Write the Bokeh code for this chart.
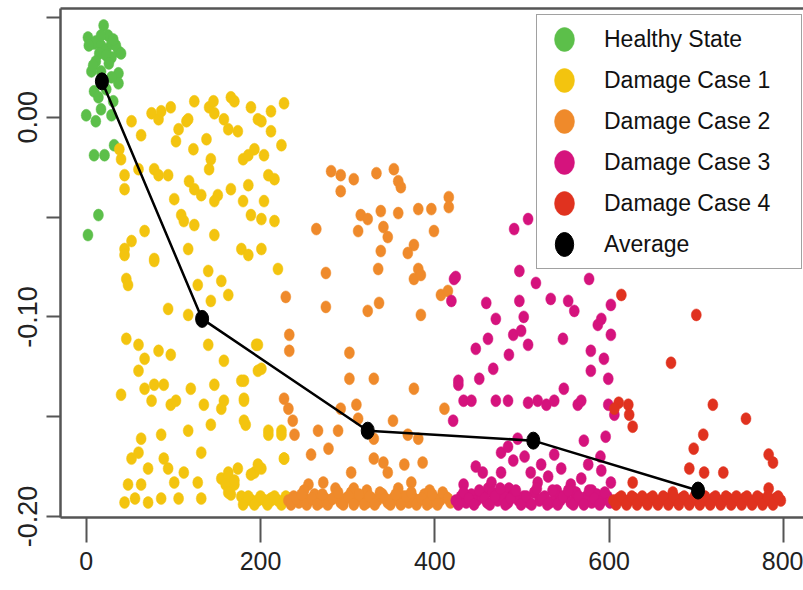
from bokeh.plotting import figure
from bokeh.models import Range1d, FixedTicker, Legend, LegendItem, LinearAxis
from bokeh.embed import file_html
from bokeh.resources import INLINE

# ---------------- data (sample index, mean value) ----------------
healthy_pts = [
    (20, 0.046), (2, 0.040), (9, 0.037), (25, 0.041), (37, 0.033), (29, 0.030), (6, 0.023), (37, 0.022),
    (20, 0.018), (9, 0.013), (37, 0.017), (0, 0.001), (17, 0.004), (29, 0.001), (9, -0.019), (21, -0.019),
    (32, -0.014), (14, -0.049), (2, -0.059), (11, 0.038), (17, 0.036), (23, 0.034), (29, 0.037), (34, 0.036),
    (15, 0.032), (23, 0.031), (17, 0.041), (31, 0.039), (40, 0.032), (11, 0.028), (26, 0.027), (3, 0.036),
    (8, 0.026), (29, 0.020), (17, 0.023), (23, 0.014), (14, 0.010), (31, 0.008), (11, -0.002),
]

damage1_pts = [
    (52, -0.002), (63, -0.009), (75, 0.002), (83, -0.001), (86, 0.003), (97, 0.005), (106, -0.006), (103, -0.012),
    (115, -0.002), (117, -0.001), (124, 0.008), (123, -0.016), (138, -0.011), (141, 0.005), (146, 0.008), (147, 0.002),
    (143, -0.021), (141, -0.026), (158, -0.001), (166, 0.010), (163, -0.006), (174, -0.007), (170, 0.008), (189, 0.005),
    (197, -0.001), (201, -0.002), (212, 0.003), (212, -0.007), (227, 0.007), (224, -0.014), (204, -0.019), (193, -0.016),
    (180, -0.021), (186, -0.019), (186, -0.034), (166, -0.036), (209, -0.029), (216, -0.031), (151, -0.039), (147, -0.042),
    (132, -0.039), (124, -0.036), (118, -0.032), (101, -0.041), (109, -0.049), (112, -0.052), (124, -0.054), (94, -0.029),
    (78, -0.026), (83, -0.029), (40, -0.021), (44, -0.029), (44, -0.036), (60, -0.026), (147, -0.059), (117, -0.066),
    (67, -0.057), (52, -0.062), (44, -0.066), (180, -0.042), (189, -0.049), (204, -0.042), (201, -0.051), (216, -0.052),
    (178, -0.066), (186, -0.069), (201, -0.066), (78, -0.071), (38, -0.016),
    (44, -0.069), (78, -0.072), (46, -0.081), (48, -0.084), (140, -0.077), (128, -0.084), (155, -0.082), (163, -0.089),
    (94, -0.096), (117, -0.099), (143, -0.092), (197, -0.114), (140, -0.114), (201, -0.126), (220, -0.076), (46, -0.111),
    (60, -0.114), (67, -0.121), (60, -0.127), (83, -0.117), (97, -0.119), (158, -0.122), (40, -0.139), (67, -0.136),
    (78, -0.134), (89, -0.134), (75, -0.142), (97, -0.144), (103, -0.142), (120, -0.136), (135, -0.144), (147, -0.134),
    (158, -0.142), (155, -0.146), (178, -0.132), (181, -0.142), (183, -0.154), (143, -0.154), (209, -0.157), (224, -0.157),
    (63, -0.161), (86, -0.159), (117, -0.157), (132, -0.168), (52, -0.171), (60, -0.168), (71, -0.176), (63, -0.184),
    (48, -0.184), (44, -0.193), (56, -0.191), (71, -0.193), (86, -0.191), (94, -0.176), (89, -0.171), (101, -0.183),
    (106, -0.191), (112, -0.178), (128, -0.183), (132, -0.191), (155, -0.181), (163, -0.178), (170, -0.184), (166, -0.189),
    (174, -0.176), (193, -0.178), (201, -0.176), (186, -0.191), (201, -0.191), (212, -0.191), (227, -0.171),
    (163, -0.180), (166, -0.185), (160, -0.184), (163, -0.188), (170, -0.182),
    (183, -0.192), (190, -0.192), (197, -0.192), (205, -0.192), (212, -0.192), (220, -0.192), (227, -0.192), (178, -0.190),
    (195, -0.114), (197, -0.127), (181, -0.132), (181, -0.141), (181, -0.152), (209, -0.159), (224, -0.159), (227, -0.171),
    (197, -0.174), (189, -0.179),
    (180, -0.194), (186, -0.190), (193, -0.194), (200, -0.190), (208, -0.194), (216, -0.190), (224, -0.194), (229, -0.190),
]

damage2_pts = [
    (281, -0.027), (292, -0.029), (292, -0.037), (307, -0.031), (333, -0.028), (353, -0.026), (358, -0.032), (361, -0.035),
    (416, -0.040), (416, -0.045), (381, -0.046), (396, -0.046), (358, -0.048), (338, -0.047), (315, -0.049), (323, -0.051),
    (312, -0.057), (341, -0.055), (346, -0.060), (399, -0.057), (376, -0.064), (369, -0.068), (338, -0.067), (335, -0.076),
    (381, -0.076), (376, -0.081), (384, -0.079), (264, -0.056), (275, -0.078), (229, -0.090), (275, -0.095), (323, -0.097),
    (336, -0.093), (384, -0.099), (407, -0.089), (415, -0.087), (233, -0.109), (233, -0.117), (302, -0.118), (302, -0.131),
    (330, -0.131), (376, -0.136), (227, -0.141), (232, -0.146), (237, -0.152), (239, -0.159), (266, -0.157), (278, -0.166),
    (258, -0.169), (289, -0.157), (292, -0.146), (310, -0.144), (312, -0.151), (352, -0.152), (330, -0.161), (369, -0.159),
    (381, -0.161), (330, -0.171), (341, -0.173), (346, -0.178), (304, -0.178), (307, -0.186), (365, -0.174), (386, -0.173),
    (373, -0.183), (272, -0.183), (255, -0.184), (411, -0.146),
    (232, -0.192), (238, -0.190), (244, -0.193), (250, -0.191), (256, -0.192), (262, -0.189), (268, -0.193), (274, -0.191),
    (280, -0.192), (286, -0.190), (292, -0.193), (298, -0.191), (304, -0.188), (310, -0.192), (316, -0.190), (322, -0.193),
    (328, -0.191), (334, -0.192), (340, -0.189), (346, -0.193), (352, -0.191), (358, -0.192), (364, -0.190), (370, -0.193),
    (376, -0.191), (382, -0.192), (388, -0.189), (394, -0.193), (400, -0.191), (406, -0.192), (412, -0.190), (418, -0.193),
    (250, -0.187), (286, -0.186), (322, -0.187), (358, -0.186), (394, -0.187),
    (235, -0.194), (241, -0.191), (247, -0.189), (253, -0.194), (259, -0.191), (265, -0.194), (271, -0.189), (277, -0.194),
    (283, -0.191), (289, -0.188), (295, -0.194), (301, -0.190), (307, -0.194), (313, -0.189), (319, -0.194), (325, -0.190),
    (331, -0.194), (337, -0.188), (343, -0.191), (349, -0.194), (355, -0.189), (361, -0.194), (367, -0.190), (373, -0.188),
    (379, -0.194), (385, -0.191), (391, -0.194), (397, -0.189), (403, -0.194), (409, -0.188), (415, -0.191),
]

damage3_pts = [
    (491, -0.056), (507, -0.051), (422, -0.081), (419, -0.092), (497, -0.077), (516, -0.083), (577, -0.081), (459, -0.093),
    (497, -0.092), (533, -0.091), (553, -0.092), (560, -0.097), (591, -0.101), (602, -0.094), (470, -0.101), (502, -0.100),
    (490, -0.109), (499, -0.107), (461, -0.111), (447, -0.116), (507, -0.114), (547, -0.111), (587, -0.104), (602, -0.109),
    (579, -0.117), (594, -0.121), (485, -0.119), (467, -0.126), (451, -0.131), (427, -0.134), (433, -0.142), (442, -0.142),
    (470, -0.142), (484, -0.142), (507, -0.143), (518, -0.142), (528, -0.144), (537, -0.142), (548, -0.136), (564, -0.144),
    (568, -0.142), (599, -0.144), (606, -0.149), (599, -0.131), (579, -0.127), (421, -0.152), (495, -0.161), (476, -0.168),
    (455, -0.178), (476, -0.178), (522, -0.174), (537, -0.169), (545, -0.176), (571, -0.162), (576, -0.174), (591, -0.177),
    (602, -0.183), (518, -0.183), (485, -0.186), (433, -0.184), (461, -0.186), (556, -0.184), (568, -0.181), (424, -0.080),
    (427, -0.132), (484, -0.165), (490, -0.172), (503, -0.170), (510, -0.178), (530, -0.180), (540, -0.187), (560, -0.188),
    (580, -0.187), (590, -0.170), (596, -0.160), (447, -0.175), (465, -0.183),
    (424, -0.192), (430, -0.190), (436, -0.193), (442, -0.189), (448, -0.192), (454, -0.190), (460, -0.193), (466, -0.188),
    (472, -0.192), (478, -0.190), (484, -0.193), (490, -0.189), (496, -0.192), (502, -0.190), (508, -0.193), (514, -0.188),
    (520, -0.192), (526, -0.190), (532, -0.193), (538, -0.189), (544, -0.192), (550, -0.190), (556, -0.193), (562, -0.188),
    (568, -0.192), (574, -0.190), (580, -0.193), (586, -0.189), (592, -0.192), (598, -0.190),
    (427, -0.194), (433, -0.188), (439, -0.191), (445, -0.194), (451, -0.187), (457, -0.191), (463, -0.194), (469, -0.190),
    (475, -0.186), (481, -0.194), (487, -0.191), (493, -0.187), (499, -0.194), (505, -0.190), (511, -0.194), (517, -0.186),
    (523, -0.191), (529, -0.194), (535, -0.187), (541, -0.194), (547, -0.190), (553, -0.187), (559, -0.194), (565, -0.190),
    (571, -0.194), (577, -0.187), (583, -0.191), (589, -0.194), (595, -0.188), (601, -0.193),
]

damage4_pts = [
    (614, -0.089), (700, -0.099), (671, -0.123), (719, -0.144), (757, -0.151), (611, -0.143), (622, -0.144), (623, -0.149),
    (627, -0.155), (708, -0.159), (697, -0.166), (692, -0.176), (709, -0.178), (731, -0.178), (783, -0.169), (788, -0.173),
    (627, -0.183), (783, -0.186), (673, -0.188), (606, -0.146),
    (605, -0.192), (611, -0.191), (617, -0.192), (623, -0.192), (629, -0.191), (635, -0.192), (641, -0.192), (647, -0.191),
    (653, -0.192), (659, -0.192), (665, -0.191), (671, -0.192), (677, -0.192), (683, -0.191), (689, -0.192), (695, -0.192),
    (701, -0.191), (707, -0.192), (713, -0.192), (719, -0.191), (725, -0.192), (731, -0.192), (737, -0.191), (743, -0.192),
    (749, -0.192), (755, -0.191), (761, -0.192), (767, -0.192), (773, -0.191), (779, -0.192), (785, -0.192), (791, -0.191),
    (797, -0.192),
    (608, -0.194), (614, -0.190), (620, -0.194), (626, -0.190), (632, -0.194), (638, -0.190), (644, -0.194), (650, -0.190),
    (656, -0.194), (662, -0.190), (668, -0.194), (674, -0.190), (680, -0.194), (686, -0.190), (692, -0.194), (698, -0.190),
    (704, -0.194), (710, -0.190), (716, -0.194), (722, -0.190), (728, -0.194), (734, -0.190), (740, -0.194), (746, -0.190),
    (752, -0.194), (758, -0.190), (764, -0.194), (770, -0.190), (776, -0.194), (782, -0.190), (788, -0.194), (794, -0.190),
]

average_x = [18, 133, 323, 513, 702]
average_y = [0.018, -0.101, -0.157, -0.162, -0.187]

series_names = ["Healthy State", "Damage Case 1", "Damage Case 2", "Damage Case 3", "Damage Case 4"]
series_points = [healthy_pts, damage1_pts, damage2_pts, damage3_pts, damage4_pts]
series_colors = ["#5cbf4a", "#f3c40f", "#ef8a2b", "#d5137d", "#e0321f"]

x_ticks = [0, 200, 400, 600, 800]
y_ticks = [0.05, 0.0, -0.05, -0.10, -0.15, -0.20]
y_tick_labels = ["", "0.00", "", "-0.10", "", "-0.20"]

FONT = "Liberation Sans"
AX = "#555555"

p = figure(width=803, height=590, output_backend="svg", toolbar_location=None,
           x_range=Range1d(-29.5, 823), y_range=Range1d(-0.2005, 0.0545),
           min_border_left=60, min_border_right=0, min_border_top=8, min_border_bottom=73)
p.grid.visible = False
p.outline_line_color = None
p.background_fill_color = "white"
p.border_fill_color = "white"

p.xaxis.ticker = FixedTicker(ticks=x_ticks)
p.yaxis.ticker = FixedTicker(ticks=y_ticks)
p.yaxis.major_label_overrides = dict(zip(y_ticks, y_tick_labels))
p.yaxis.major_label_orientation = "parallel"
p.axis.minor_tick_line_color = None
p.axis.major_tick_in = 0
p.xaxis.major_tick_out = 25
p.yaxis.major_tick_out = 14
p.axis.axis_line_color = AX
p.axis.axis_line_width = 2.5
p.axis.major_tick_line_color = AX
p.axis.major_tick_line_width = 2
p.axis.major_label_text_font = FONT
p.axis.major_label_text_color = "#222222"
p.xaxis.major_label_text_font_size = "25px"
p.yaxis.major_label_text_font_size = "27px"
p.xaxis.major_label_standoff = 9
p.yaxis.major_label_standoff = 9

top_axis = LinearAxis(ticker=FixedTicker(ticks=[]), major_label_text_font_size="0px",
                      major_tick_out=0, major_tick_in=0, minor_tick_out=0, minor_tick_in=0,
                      axis_line_color=AX, axis_line_width=2.5)
p.add_layout(top_axis, "above")

items = []
for name, pts, col in zip(series_names, series_points, series_colors):
    xs = [a for a, b in pts]
    ys = [b for a, b in pts]
    r = p.ellipse(x=xs, y=ys, width=10, height=12, width_units="screen", height_units="screen",
                  fill_color=col, line_color=col, line_width=0.5)
    items.append(LegendItem(label=name, renderers=[r]))

p.line(average_x, average_y, line_color="black", line_width=2.5)
ra = p.ellipse(x=average_x, y=average_y, width=13, height=17, width_units="screen", height_units="screen",
               fill_color="black", line_color="black")
items.append(LegendItem(label="Average", renderers=[ra]))

legend = Legend(items=items, location=(476, 248), padding=9, spacing=11,
                glyph_width=36, glyph_height=30, label_height=30, label_width=188,
                label_standoff=22, margin=0,
                label_text_font=FONT, label_text_font_size="23px", label_text_color="#111111",
                border_line_color="#444444", border_line_width=1.2,
                background_fill_color="white", background_fill_alpha=1.0)
p.add_layout(legend)

open("out.html", "w").write(file_html(p, INLINE))
